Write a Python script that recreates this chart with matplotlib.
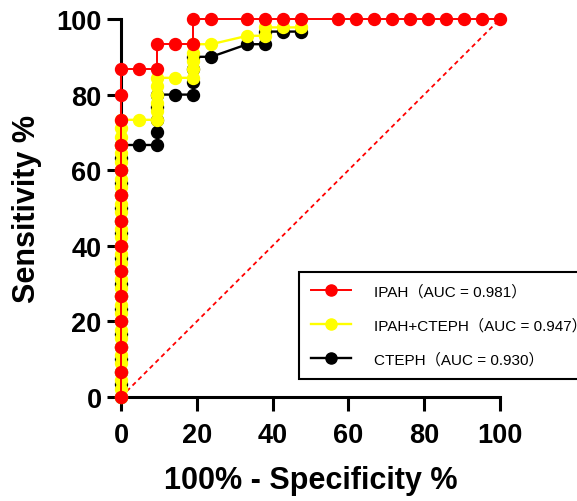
"""
    ROC curves for IPAH, CTEPH and the pooled group, GraphPad-like style.
"""

import matplotlib
matplotlib.use("Agg")
import matplotlib.pyplot as plt

# IPAH
ipah_fpr = [0, 0, 0, 0, 0, 0, 0, 0, 0, 0, 0, 0, 0, 0,
            4.76, 9.52, 9.52, 14.29, 19.05, 19.05, 23.81, 33.33, 38.10, 42.86, 47.62,
            57.14, 61.90, 66.67, 71.43, 76.19, 80.95, 85.71, 90.48, 95.24, 100]
ipah_tpr = [0, 6.67, 13.33, 20, 26.67, 33.33, 40, 46.67, 53.33, 60, 66.67, 73.33, 80, 86.67,
            86.67, 86.67, 93.33, 93.33, 93.33, 100, 100, 100, 100, 100, 100,
            100, 100, 100, 100, 100, 100, 100, 100, 100, 100]

# IPAH+CTEPH
both_fpr = [0, 0, 0, 0, 0, 0, 0, 0, 0, 0, 0, 0, 0, 0, 0, 0, 0,
            0, 0, 0, 0, 0, 0, 0, 0, 0, 0, 0, 0, 0, 0, 0, 0, 0,
            4.76, 9.52, 9.52, 9.52, 9.52, 9.52, 9.52, 14.29, 19.05, 19.05, 19.05, 19.05, 19.05,
            23.81, 33.33, 38.10, 38.10, 42.86, 47.62]
both_tpr = [0, 2.22, 4.44, 6.67, 8.89, 11.11, 13.33, 15.56, 17.78, 20, 22.22, 24.44, 26.67, 28.89,
            31.11, 33.33, 35.56, 37.78, 40, 42.22, 44.44, 46.67, 48.89, 51.11, 53.33, 55.56,
            57.78, 60, 62.22, 64.44, 66.67, 68.89, 71.11, 73.33,
            73.33, 73.33, 75.56, 77.78, 80, 82.22, 84.44, 84.44, 84.44, 86.67, 88.89, 91.11, 93.33,
            93.33, 95.56, 95.56, 97.78, 97.78, 97.78]

# CTEPH
cteph_fpr = [0, 0, 0, 0, 0, 0, 0, 0, 0, 0, 0, 0, 0, 0, 0, 0, 0, 0, 0, 0, 0,
             4.76, 9.52, 9.52, 9.52, 9.52, 9.52, 14.29, 19.05, 19.05, 19.05, 19.05,
             23.81, 33.33, 38.10, 38.10, 42.86, 47.62]
cteph_tpr = [0, 3.33, 6.67, 10, 13.33, 16.67, 20, 23.33, 26.67, 30, 33.33, 36.67, 40, 43.33,
             46.67, 50, 53.33, 56.67, 60, 63.33, 66.67,
             66.67, 66.67, 70, 73.33, 76.67, 80, 80, 80, 83.33, 86.67, 90,
             90, 93.33, 93.33, 96.67, 96.67, 96.67]

labels = ["IPAH（AUC = 0.981）", "IPAH+CTEPH（AUC = 0.947）", "CTEPH（AUC = 0.930）"]
ticks = [0, 20, 40, 60, 80, 100]

plt.rcParams["font.family"] = ["Liberation Sans", "Noto Sans CJK SC"]

fig = plt.figure(figsize=(5.77, 5.02), dpi=100)
ax = fig.add_axes([121 / 577, 104 / 502, 379 / 577, 378 / 502])

# reference line
ax.plot([0, 100], [0, 100], color="red", lw=1.3, dashes=(2.5, 2), zorder=1)

h_c, = ax.plot(cteph_fpr, cteph_tpr, "-o", color="black", lw=1.7, ms=8.6, clip_on=False, zorder=3)
h_b, = ax.plot(both_fpr, both_tpr, "-o", color="#ffff00", lw=1.7, ms=8.6, clip_on=False, zorder=4)
h_i, = ax.plot(ipah_fpr, ipah_tpr, "-o", color="red", lw=1.4, ms=8.6, clip_on=False, zorder=5)

ax.set_xlim(0, 100)
ax.set_ylim(0, 100)
ax.set_xticks(ticks)
ax.set_yticks(ticks)
ax.spines["top"].set_visible(False)
ax.spines["right"].set_visible(False)
for s in ["left", "bottom"]:
    ax.spines[s].set_linewidth(2.2)
    ax.spines[s].set_zorder(2)
ax.tick_params(direction="out", length=10, width=2.2, labelsize=19.5, pad=4)
ax.tick_params(axis="x", pad=8)
for t in ax.get_xticklabels() + ax.get_yticklabels():
    t.set_fontweight("bold")

ax.set_xlabel("100% - Specificity %", fontsize=22, fontweight="bold", labelpad=12)
ax.set_ylabel("Sensitivity %", fontsize=22, fontweight="bold", labelpad=10)

leg = fig.legend([h_i, h_b, h_c], labels, loc="upper left",
                 bbox_to_anchor=(299 / 577, 1 - 273 / 502), borderaxespad=0,
                 fontsize=11, handlelength=2.6, handletextpad=1.5, labelspacing=1.27,
                 borderpad=0.8, fancybox=False, framealpha=1)
leg.get_frame().set_edgecolor("black")
leg.get_frame().set_linewidth(1.5)
for lh in leg.legend_handles:
    lh.set_markersize(8)

fig.savefig("out.png", dpi=100)
